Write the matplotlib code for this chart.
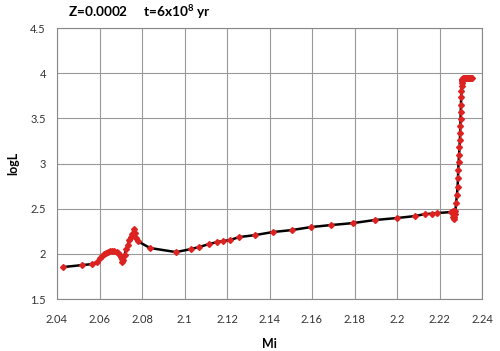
import matplotlib
matplotlib.use('Agg')
import matplotlib.pyplot as plt

plt.rcParams['font.family'] = ['Lato', 'DejaVu Sans']
plt.rcParams['mathtext.fontset'] = 'custom'
plt.rcParams['mathtext.rm'] = 'Lato'
plt.rcParams['mathtext.bf'] = 'Lato:bold'

# Mi values read from the track (in order along the track)
mi = [2.0428, 2.0518, 2.0565, 2.0588, 2.0600, 2.0610, 2.0620, 2.0630, 2.0640,
      2.0650, 2.0660, 2.0670, 2.0680, 2.0688, 2.0695, 2.0700, 2.0704, 2.0707,
      2.0712, 2.0718, 2.0725, 2.0733, 2.0740, 2.0748, 2.0755, 2.0763, 2.0768,
      2.0773, 2.0780, 2.0838, 2.0960, 2.1030, 2.1069, 2.1116, 2.1153, 2.1181,
      2.1214, 2.1257, 2.1332, 2.1416, 2.1506, 2.1595, 2.1689, 2.1793, 2.1896,
      2.2000, 2.2085, 2.2132, 2.2165, 2.2188, 2.2255, 2.2262, 2.2266, 2.2262,
      2.2266, 2.2270, 2.2272, 2.2275, 2.2278, 2.2282, 2.2285, 2.2287, 2.2288,
      2.2290, 2.2292, 2.2294, 2.2296, 2.2297, 2.2298, 2.2299, 2.2300, 2.2301,
      2.2302, 2.2303, 2.2304, 2.2305, 2.2306, 2.2307, 2.2308, 2.2310, 2.2315,
      2.2320, 2.2325, 2.2330, 2.2335, 2.2340, 2.2345, 2.2350, 2.2355]
logl = [1.854, 1.876, 1.887, 1.910, 1.950, 1.975, 1.998, 2.012, 2.020,
        2.027, 2.030, 2.028, 2.020, 2.005, 1.990, 1.965, 1.940, 1.905,
        1.930, 1.990, 2.050, 2.100, 2.150, 2.190, 2.220, 2.275, 2.230,
        2.180, 2.140, 2.065, 2.020, 2.053, 2.076, 2.109, 2.131, 2.142,
        2.153, 2.186, 2.208, 2.242, 2.264, 2.297, 2.319, 2.341, 2.375,
        2.397, 2.419, 2.441, 2.445, 2.452, 2.463, 2.470, 2.440, 2.410,
        2.390, 2.410, 2.440, 2.480, 2.563, 2.651, 2.740, 2.840, 2.930,
        3.020, 3.090, 3.180, 3.260, 3.340, 3.420, 3.490, 3.570, 3.650,
        3.740, 3.800, 3.860, 3.890, 3.910, 3.930, 3.940, 3.945, 3.950,
        3.950, 3.950, 3.950, 3.950, 3.950, 3.950, 3.950, 3.950]

x_ticks = [2.04, 2.06, 2.08, 2.1, 2.12, 2.14, 2.16, 2.18, 2.2, 2.22, 2.24]
x_labels = ['2.04', '2.06', '2.08', '2.1', '2.12', '2.14', '2.16', '2.18', '2.2', '2.22', '2.24']
y_ticks = [1.5, 2, 2.5, 3, 3.5, 4, 4.5]
y_labels = ['1.5', '2', '2.5', '3', '3.5', '4', '4.5']

fig = plt.figure(figsize=(5, 3.51), dpi=100)
ax = fig.add_axes([0.114, 0.148, 0.85, 0.772])

ax.plot(mi, logl, color='black', linewidth=1.8, zorder=3)
ax.plot(mi, logl, linestyle='none', marker='D', markersize=3,
        color='#dd2222', zorder=4)

ax.set_xlim(2.04, 2.24)
ax.set_ylim(1.5, 4.5)
ax.set_xticks(x_ticks)
ax.set_xticklabels(x_labels)
ax.set_yticks(y_ticks)
ax.set_yticklabels(y_labels)
ax.tick_params(length=0, labelsize=8, colors='#333333')
ax.tick_params(axis='x', pad=11)
ax.tick_params(axis='y', pad=8)
ax.grid(True, color='#999999', linewidth=0.8)
ax.set_axisbelow(True)
for s in ax.spines.values():
    s.set_color('#888888')
    s.set_linewidth(0.8)

ax.set_xlabel('Mi', fontsize=9, fontweight='bold', labelpad=9)
ax.set_ylabel('logL', fontsize=9, fontweight='bold', labelpad=8)

fig.text(68 / 500, 1 - 12 / 351, r'Z=0.0002     t=6x10$^{\mathbf{8}}$ yr',
         fontsize=9.8, fontweight='bold', ha='left', va='center')

fig.savefig('out.png', dpi=100)
